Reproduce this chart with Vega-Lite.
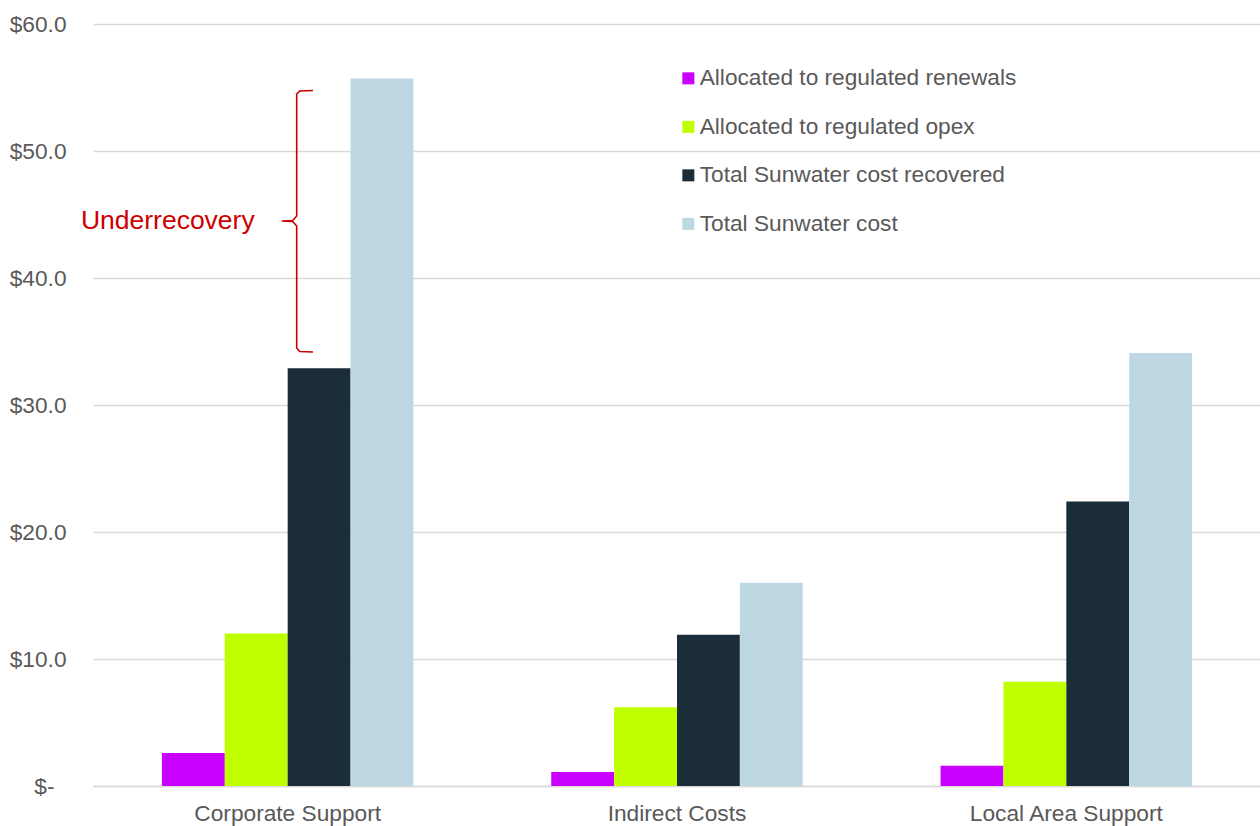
{
  "$schema": "https://vega.github.io/schema/vega-lite/v6.json",
  "width": 1168,
  "height": 762,
  "autosize": {"type": "none"},
  "padding": {"left": 93, "top": 24, "right": 0, "bottom": 40},
  "background": "white",
  "config": {
    "view": {"stroke": null},
    "font": "Liberation Sans",
    "axis": {"labelFont": "Liberation Sans", "labelColor": "#595959", "labelFontSize": 22.7, "labelLimit": 400}
  },
  "datasets": {
    "costs": [
      {"area": "Corporate Support", "series": "Allocated to regulated renewals", "value": 2.6},
      {"area": "Corporate Support", "series": "Allocated to regulated opex", "value": 12.0},
      {"area": "Corporate Support", "series": "Total Sunwater cost recovered", "value": 32.9},
      {"area": "Corporate Support", "series": "Total Sunwater cost", "value": 55.7},
      {"area": "Indirect Costs", "series": "Allocated to regulated renewals", "value": 1.1},
      {"area": "Indirect Costs", "series": "Allocated to regulated opex", "value": 6.2},
      {"area": "Indirect Costs", "series": "Total Sunwater cost recovered", "value": 11.9},
      {"area": "Indirect Costs", "series": "Total Sunwater cost", "value": 16.0},
      {"area": "Local Area Support", "series": "Allocated to regulated renewals", "value": 1.6},
      {"area": "Local Area Support", "series": "Allocated to regulated opex", "value": 8.2},
      {"area": "Local Area Support", "series": "Total Sunwater cost recovered", "value": 22.4},
      {"area": "Local Area Support", "series": "Total Sunwater cost", "value": 34.1}
    ],
    "brace": [
      {"step": 1, "pos": 0.5651, "value": 54.76},
      {"step": 2, "pos": 0.5309, "value": 54.72},
      {"step": 3, "pos": 0.5232, "value": 54.49},
      {"step": 4, "pos": 0.5232, "value": 44.88},
      {"step": 5, "pos": 0.5129, "value": 44.53},
      {"step": 6, "pos": 0.4847, "value": 44.49},
      {"step": 7, "pos": 0.5129, "value": 44.45},
      {"step": 8, "pos": 0.5232, "value": 44.09},
      {"step": 9, "pos": 0.5232, "value": 34.49},
      {"step": 10, "pos": 0.5309, "value": 34.21},
      {"step": 11, "pos": 0.5651, "value": 34.17}
    ],
    "note": [
      {"pos": 0.4153, "value": 44.49, "label": "Underrecovery"}
    ]
  },
  "layer": [
    {
      "data": {"name": "costs"},
      "mark": {"type": "bar"},
      "encoding": {
        "x": {
          "field": "area",
          "type": "nominal",
          "sort": ["Corporate Support", "Indirect Costs", "Local Area Support"],
          "scale": {"paddingInner": 0.354, "paddingOuter": 0.177},
          "axis": {
            "title": null,
            "labelAngle": 0,
            "ticks": false,
            "domain": true,
            "domainColor": "#d9d9d9",
            "domainWidth": 1.5,
            "labelPadding": 16
          }
        },
        "xOffset": {
          "field": "series",
          "type": "nominal",
          "sort": ["Allocated to regulated renewals", "Allocated to regulated opex", "Total Sunwater cost recovered", "Total Sunwater cost"],
          "scale": {"paddingInner": 0, "paddingOuter": 0}
        },
        "y": {
          "field": "value",
          "type": "quantitative",
          "scale": {"domain": [0, 60]},
          "axis": {
            "title": null,
            "values": [0, 10, 20, 30, 40, 50, 60],
            "labelExpr": "datum.value === 0 ? '$-' : '$' + format(datum.value, '.1f')",
            "ticks": false,
            "domain": false,
            "grid": true,
            "gridColor": "#d9d9d9",
            "gridWidth": 1.5,
            "labelPadding": {"condition": {"test": "datum.value === 0", "value": 39}, "value": 27}
          }
        },
        "color": {
          "field": "series",
          "type": "nominal",
          "sort": ["Allocated to regulated renewals", "Allocated to regulated opex", "Total Sunwater cost recovered", "Total Sunwater cost"],
          "scale": {
            "domain": ["Allocated to regulated renewals", "Allocated to regulated opex", "Total Sunwater cost recovered", "Total Sunwater cost"],
            "range": ["#c800ff", "#bfff00", "#1b2d39", "#bdd8e2"]
          },
          "legend": {
            "title": null,
            "orient": "none",
            "legendX": 584,
            "legendY": 43,
            "symbolType": "square",
            "symbolSize": 144,
            "symbolStrokeWidth": 0,
            "labelFont": "Liberation Sans",
            "labelFontSize": 22.7,
            "labelColor": "#595959",
            "labelOffset": 0,
            "rowPadding": 24.5,
            "labelLimit": 600
          }
        }
      }
    },
    {
      "data": {"name": "brace"},
      "mark": {"type": "line", "color": "#cc0000", "strokeWidth": 1.6},
      "encoding": {
        "x": {"field": "pos", "type": "quantitative", "scale": {"domain": [0, 3]}, "axis": null},
        "y": {"field": "value", "type": "quantitative"},
        "order": {"field": "step", "type": "quantitative"}
      }
    },
    {
      "data": {"name": "note"},
      "mark": {"type": "text", "align": "right", "baseline": "middle", "color": "#cc0000", "fontSize": 26.5, "font": "Liberation Sans"},
      "encoding": {
        "x": {"field": "pos", "type": "quantitative", "scale": {"domain": [0, 3]}, "axis": null},
        "y": {"field": "value", "type": "quantitative"},
        "text": {"field": "label"}
      }
    }
  ],
  "resolve": {"scale": {"x": "independent"}}
}
